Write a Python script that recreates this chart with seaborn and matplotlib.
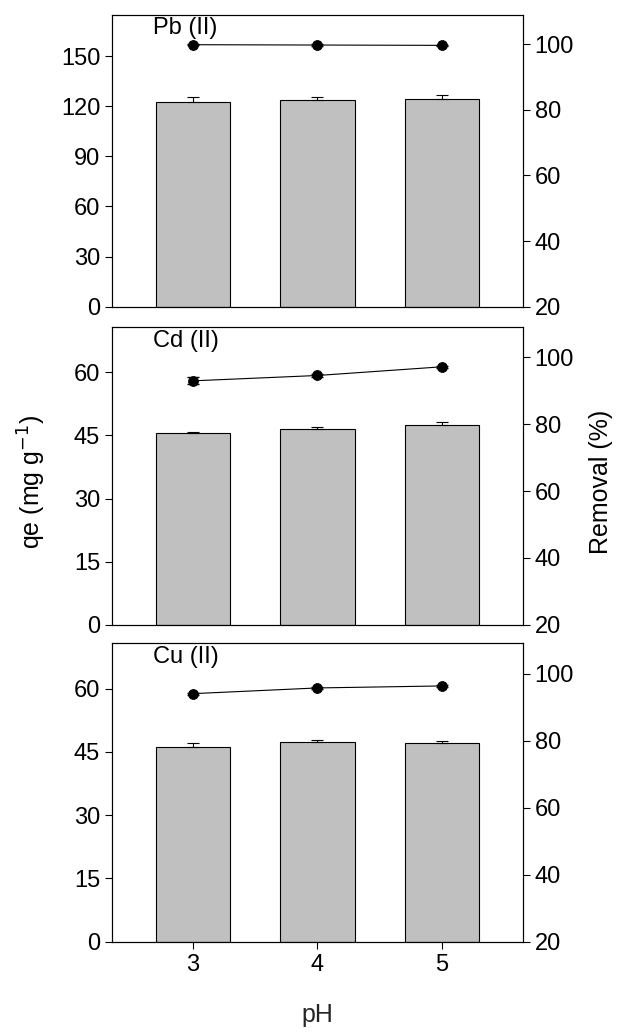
import numpy as np
import pandas as pd
import matplotlib
matplotlib.use('Agg')
import matplotlib.pyplot as plt
import seaborn as sns

ph = [3, 4, 5]
metals = ['Pb (II)', 'Cd (II)', 'Cu (II)']
qe = {'Pb (II)': [122.5, 124.0, 124.5], 'Cd (II)': [45.7, 46.6, 47.6], 'Cu (II)': [46.2, 47.3, 47.1]}
qe_err = {'Pb (II)': [3.0, 1.5, 2.5], 'Cd (II)': [0.2, 0.3, 0.6], 'Cu (II)': [0.8, 0.6, 0.5]}
removal = {'Pb (II)': [99.8, 99.7, 99.6], 'Cd (II)': [93.0, 94.6, 97.2], 'Cu (II)': [94.0, 95.7, 96.3]}
rem_err = {'Pb (II)': [0.2, 0.2, 0.2], 'Cd (II)': [1.0, 0.4, 0.3], 'Cu (II)': [0.3, 0.3, 0.3]}
left_lim = {'Pb (II)': (0, 175), 'Cd (II)': (0, 70.7), 'Cu (II)': (0, 70.7)}
left_ticks = {'Pb (II)': np.arange(0, 151, 30), 'Cd (II)': np.arange(0, 61, 15), 'Cu (II)': np.arange(0, 61, 15)}

sns.set_style('ticks')
plt.rcParams['font.family'] = ['Liberation Sans', 'DejaVu Sans']
plt.rcParams['text.color'] = 'black'
plt.rcParams['xtick.color'] = 'black'
plt.rcParams['ytick.color'] = 'black'
plt.rcParams['axes.edgecolor'] = 'black'
fig = plt.figure(figsize=(6.33, 10.36), dpi=100)
rects = [(0.177, 0.704, 0.649, 0.282), (0.177, 0.397, 0.649, 0.287), (0.177, 0.091, 0.649, 0.288)]

for i, (m, r) in enumerate(zip(metals, rects)):
    ax = fig.add_axes(r)
    df = pd.DataFrame({'pH': ph, 'qe': qe[m]})
    sns.barplot(data=df, x='pH', y='qe', native_scale=True, width=0.6, color='#c0c0c0',
                edgecolor='black', linewidth=0.8, ax=ax, errorbar=None)
    ax.errorbar(ph, qe[m], yerr=[np.zeros(3), qe_err[m]], fmt='none', ecolor='black',
                elinewidth=0.8, capsize=4, capthick=0.8)
    ax.set_xlim(2.35, 5.65)
    ax.set_ylim(*left_lim[m])
    ax.set_yticks(left_ticks[m])
    ax.set_ylabel('')
    ax.set_xlabel('')
    ax.tick_params(labelsize=17, direction='out', length=5)
    ax.text(0.1, 0.99, m, transform=ax.transAxes, fontsize=17, va='top', ha='left')
    if i < 2:
        ax.set_xticklabels([])
        ax.tick_params(axis='x', length=0)
    else:
        ax.set_xticks(ph)
        ax.set_xlabel('pH', fontsize=18, labelpad=20)
    ax2 = ax.twinx()
    rdf = pd.DataFrame({'pH': ph, 'rem': removal[m]})
    sns.lineplot(data=rdf, x='pH', y='rem', color='black', linewidth=0.8, marker='o',
                 markersize=7, markeredgecolor='black', ax=ax2)
    ax2.errorbar(ph, removal[m], yerr=rem_err[m], fmt='none', ecolor='black', elinewidth=0.8, capsize=4)
    ax2.set_ylim(20, 109)
    ax2.set_yticks([20, 40, 60, 80, 100])
    ax2.set_ylabel('')
    ax2.tick_params(labelsize=17, length=5)
    for a in (ax, ax2):
        for s in a.spines.values():
            s.set_linewidth(0.8)

fig.text(0.05, 0.535, 'qe (mg g$^{-1}$)', rotation=90, fontsize=18, va='center', ha='center')
fig.text(0.95, 0.535, 'Removal (%)', rotation=90, fontsize=18, va='center', ha='center')
fig.savefig('out.png', dpi=100)
